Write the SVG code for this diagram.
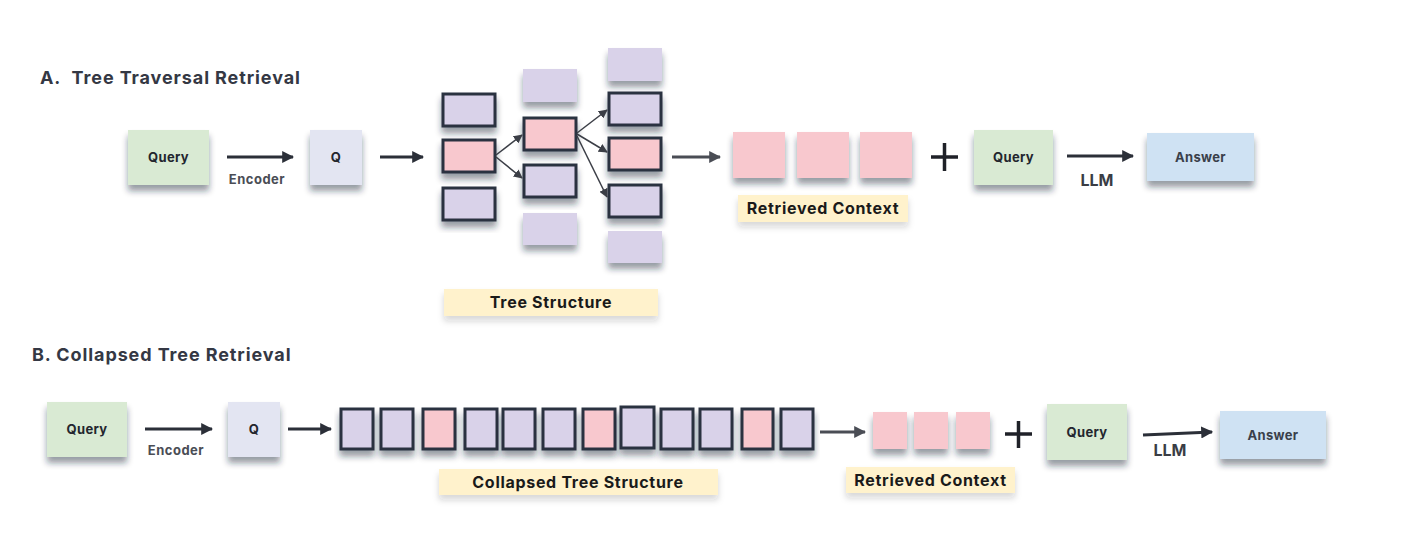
<svg xmlns="http://www.w3.org/2000/svg" width="1416" height="542" viewBox="0 0 1416 542">
<defs>
<filter id="sh" x="-20%" y="-20%" width="140%" height="160%">
<feDropShadow dx="0" dy="6" stdDeviation="3" flood-color="#1e2230" flood-opacity="0.45"/>
</filter>
<filter id="shl" x="-20%" y="-30%" width="140%" height="190%">
<feDropShadow dx="0" dy="5" stdDeviation="3" flood-color="#1e2230" flood-opacity="0.18"/>
</filter>
<marker id="ah" viewBox="0 0 10 10" refX="9" refY="5" markerWidth="4" markerHeight="4" orient="auto" markerUnits="strokeWidth">
<path d="M0,0 L10,5 L0,10 z" fill="#2b2f38"/>
</marker>
<marker id="ahg" viewBox="0 0 10 10" refX="9" refY="5" markerWidth="4" markerHeight="4" orient="auto" markerUnits="strokeWidth">
<path d="M0,0 L10,5 L0,10 z" fill="#4a4d55"/>
</marker>
<marker id="aht" viewBox="0 0 10 10" refX="9" refY="5" markerWidth="6" markerHeight="6" orient="auto" markerUnits="strokeWidth">
<path d="M0,0 L10,5 L0,10 z" fill="#3b3e46"/>
</marker>
</defs>
<style>
text{font-family:Inter,"Noto Sans","Liberation Sans",sans-serif;font-weight:700;}
.title{font-size:18px;fill:#343844;letter-spacing:0.9px;}
.lbl{font-size:13px;fill:#23262e;text-anchor:middle;letter-spacing:0.3px;}
.sub{font-size:13px;fill:#4a4d55;text-anchor:middle;letter-spacing:0.5px;}
.llm{font-size:16px;fill:#3a3d45;text-anchor:middle;}
.cap{font-size:16px;fill:#1a1a1a;text-anchor:middle;letter-spacing:0.7px;}
.green{fill:#d9ead3;}
.q{fill:#e3e5f2;}
.ans{fill:#cfe2f3;}
.lav{fill:#d9d2e9;}
.pink{fill:#f8c8ce;}
.bd{stroke:#2b3140;stroke-width:3;}
.yel{fill:#fff2cc;}
.arr{stroke:#2b2f38;stroke-width:3;fill:none;marker-end:url(#ah);}
.arrg{stroke:#4a4d55;stroke-width:3;fill:none;marker-end:url(#ahg);}
.arrt{stroke:#3b3e46;stroke-width:1.5;fill:none;marker-end:url(#aht);}
.plus{stroke:#1f2128;stroke-width:3.5;}
</style>

<text class="title" x="40" y="84">A.&#160; Tree Traversal Retrieval</text>
<text class="title" x="32" y="361">B. Collapsed Tree Retrieval</text>

<g id="a-query"><rect class="green" x="128" y="130" width="81" height="55" filter="url(#sh)"/><text class="lbl" x="168.5" y="162">Query</text></g>
<g id="a-q"><rect class="q" x="310" y="130" width="52" height="55" filter="url(#sh)"/><text class="lbl" x="336" y="162">Q</text></g>

<g id="a-tree">
<rect class="lav bd" x="443" y="94" width="52" height="32" filter="url(#sh)"/>
<rect class="pink bd" x="443" y="140" width="52" height="32" filter="url(#sh)"/>
<rect class="lav bd" x="443" y="188" width="52" height="32" filter="url(#sh)"/>
<rect class="lav" x="523" y="69" width="54" height="33" filter="url(#sh)"/>
<rect class="pink bd" x="524" y="118" width="52" height="32" filter="url(#sh)"/>
<rect class="lav bd" x="524" y="165" width="52" height="32" filter="url(#sh)"/>
<rect class="lav" x="523" y="213" width="54" height="32" filter="url(#sh)"/>
<rect class="lav" x="608" y="48" width="54" height="33" filter="url(#sh)"/>
<rect class="lav bd" x="609" y="93" width="52" height="32" filter="url(#sh)"/>
<rect class="pink bd" x="609" y="138" width="52" height="32" filter="url(#sh)"/>
<rect class="lav bd" x="609" y="185" width="52" height="32" filter="url(#sh)"/>
<rect class="lav" x="608" y="231" width="54" height="32" filter="url(#sh)"/>
</g>
<g id="a-tree-label"><rect class="yel" x="444" y="289" width="214" height="27" filter="url(#shl)"/><text class="cap" x="551" y="308">Tree Structure</text></g>

<g id="a-context">
<rect class="pink" x="733" y="132" width="52" height="46" filter="url(#sh)"/>
<rect class="pink" x="797" y="132" width="52" height="46" filter="url(#sh)"/>
<rect class="pink" x="860" y="132" width="52" height="46" filter="url(#sh)"/>
</g>
<g id="a-context-label"><rect class="yel" x="738" y="195" width="170" height="27" filter="url(#shl)"/><text class="cap" x="823" y="214">Retrieved Context</text></g>
<g id="a-plus"><line class="plus" x1="931" y1="157" x2="958" y2="157"/><line class="plus" x1="944.5" y1="143" x2="944.5" y2="171"/></g>
<g id="a-query2"><rect class="green" x="974" y="130" width="79" height="55" filter="url(#sh)"/><text class="lbl" x="1013.5" y="162">Query</text></g>
<g id="a-answer"><rect class="ans" x="1147" y="133" width="107" height="48" filter="url(#sh)"/><text class="lbl" x="1200.5" y="162" style="fill:#3a3f4a">Answer</text></g>

<g id="b-query"><rect class="green" x="47" y="402" width="80" height="55" filter="url(#sh)"/><text class="lbl" x="87" y="434">Query</text></g>
<g id="b-q"><rect class="q" x="228" y="402" width="52" height="55" filter="url(#sh)"/><text class="lbl" x="254" y="434">Q</text></g>

<g id="b-collapsed">
<rect class="lav bd" x="341" y="409" width="32" height="40" filter="url(#sh)"/>
<rect class="lav bd" x="381" y="409" width="32" height="40" filter="url(#sh)"/>
<rect class="pink bd" x="423" y="409" width="32" height="40" filter="url(#sh)"/>
<rect class="lav bd" x="465" y="409" width="32" height="40" filter="url(#sh)"/>
<rect class="lav bd" x="503" y="409" width="32" height="40" filter="url(#sh)"/>
<rect class="lav bd" x="543" y="409" width="32" height="40" filter="url(#sh)"/>
<rect class="pink bd" x="583" y="409" width="32" height="40" filter="url(#sh)"/>
<rect class="lav bd" x="621" y="407" width="33" height="41" filter="url(#sh)"/>
<rect class="lav bd" x="661" y="409" width="32" height="40" filter="url(#sh)"/>
<rect class="lav bd" x="700" y="409" width="32" height="40" filter="url(#sh)"/>
<rect class="pink bd" x="742" y="409" width="31" height="40" filter="url(#sh)"/>
<rect class="lav bd" x="781" y="409" width="32" height="40" filter="url(#sh)"/>
</g>
<g id="b-collapsed-label"><rect class="yel" x="439" y="469" width="279" height="26" filter="url(#shl)"/><text class="cap" x="578" y="488">Collapsed Tree Structure</text></g>

<g id="b-context">
<rect class="pink" x="873" y="412" width="34" height="37" filter="url(#sh)"/>
<rect class="pink" x="914" y="412" width="34" height="37" filter="url(#sh)"/>
<rect class="pink" x="956" y="412" width="34" height="37" filter="url(#sh)"/>
</g>
<g id="b-context-label"><rect class="yel" x="846" y="467" width="169" height="26" filter="url(#shl)"/><text class="cap" x="930.5" y="486">Retrieved Context</text></g>
<g id="b-plus"><line class="plus" x1="1005" y1="434" x2="1032" y2="434"/><line class="plus" x1="1018.5" y1="421" x2="1018.5" y2="448"/></g>
<g id="b-query2"><rect class="green" x="1047" y="404" width="80" height="56" filter="url(#sh)"/><text class="lbl" x="1087" y="437">Query</text></g>
<g id="b-answer"><rect class="ans" x="1220" y="411" width="106" height="48" filter="url(#sh)"/><text class="lbl" x="1273" y="440" style="fill:#3a3f4a">Answer</text></g>

<g id="connectors">
<line class="arr" x1="227" y1="157" x2="293" y2="157"/>
<line class="arr" x1="380" y1="157" x2="423" y2="157"/>
<line class="arrt" x1="496" y1="155" x2="522" y2="135"/>
<line class="arrt" x1="496" y1="157" x2="522" y2="178"/>
<line class="arrt" x1="577" y1="133" x2="607" y2="110"/>
<line class="arrt" x1="577" y1="134" x2="607" y2="152"/>
<line class="arrt" x1="577" y1="136" x2="607" y2="197"/>
<line class="arrg" x1="672" y1="157" x2="720" y2="157"/>
<line class="arr" x1="1067" y1="156" x2="1133" y2="156"/>
<line class="arr" x1="145" y1="429" x2="212" y2="429"/>
<line class="arr" x1="288" y1="429" x2="331" y2="429"/>
<line class="arrg" x1="820" y1="432" x2="865" y2="432"/>
<line class="arr" x1="1143" y1="435" x2="1212" y2="432"/>
<text class="sub" x="257" y="184">Encoder</text>
<text class="llm" x="1097" y="186">LLM</text>
<text class="sub" x="176" y="455">Encoder</text>
<text class="llm" x="1170" y="456">LLM</text>
</g>
</svg>
